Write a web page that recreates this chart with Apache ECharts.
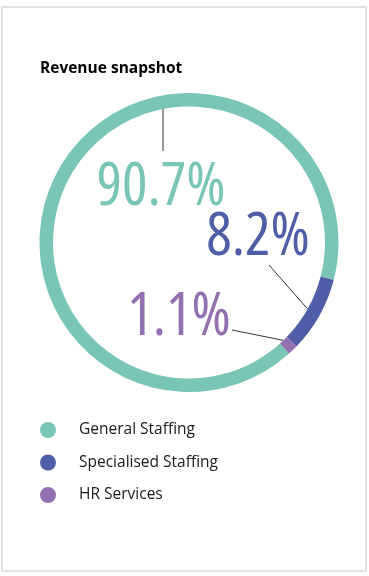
<!DOCTYPE html>
<html><head><meta charset="utf-8">
<script src="https://cdn.jsdelivr.net/npm/echarts@6/dist/echarts.min.js"></script>
<style>
html,body{margin:0;padding:0;background:#fff;}
#frame{position:absolute;left:1px;top:6px;width:362px;height:562px;border:2px solid #e2e2e2;box-sizing:content-box;}
#chart{position:absolute;left:0;top:0;width:369px;height:576px;}
</style></head>
<body>
<div id="frame"></div>
<div id="chart"></div>
<script>
const categories = ['General Staffing', 'Specialised Staffing', 'HR Services'];
const values = [90.7, 8.2, 1.1];
const labelTexts = ['90.7%', '8.2%', '1.1%'];
const colors = ['#79c6b7', '#4f5ea6', '#9370b0'];

// layout: label anchors and leader-line start offsets (px)
const labelPos = [[161, 188], [258, 238], [179, 318]];
const lineStartOffset = [[2, -37], [11, 27], [53, 12]];

const CX = 189, CY = 242.5, R_IN = 136, R_OUT = 149.5, START = 312;
const total = values.reduce((a, b) => a + b, 0);

function midAngle(i) {
  let acc = 0;
  for (let k = 0; k < i; k++) acc += values[k];
  const a = START - (acc + values[i] / 2) / total * 360;
  return a * Math.PI / 180;
}

const chart = echarts.init(document.getElementById('chart'), null, {renderer: 'canvas'});
chart.setOption({
  animation: false,
  title: {
    text: 'Revenue snapshot', left: 40, top: 61, padding: 0,
    textStyle: {fontFamily: 'Open Sans', fontWeight: 'bold', fontSize: 15.5, color: '#000'}
  },
  legend: {
    orient: 'vertical', left: 40, top: 422, padding: 0,
    icon: 'circle', itemWidth: 16, itemHeight: 16, itemGap: 16.5,
    data: categories,
    textStyle: {fontFamily: 'Open Sans', fontSize: 15.5, color: '#1a1a1a', padding: [0, 0, 0, 18]}
  },
  series: [{
    type: 'pie',
    center: [CX, CY],
    radius: [R_IN, R_OUT],
    startAngle: START,
    clockwise: true,
    silent: true,
    data: categories.map((c, i) => ({
      name: c, value: values[i],
      itemStyle: {color: colors[i]},
      label: {color: colors[i]}
    })),
    label: {
      show: true,
      overflow: 'none',
      formatter: p => labelTexts[p.dataIndex],
      fontFamily: 'Open Sans',
      fontStyle: 'condensed',
      fontSize: 60,
      fontWeight: 500
    },
    labelLine: {show: true, length: 0, length2: 0, lineStyle: {color: '#333', width: 1}},
    labelLayout: p => {
      const i = p.dataIndex;
      const [lx, ly] = labelPos[i];
      const s = [lx + lineStartOffset[i][0], ly + lineStartOffset[i][1]];
      let e;
      if (i === 0) {
        const dx = s[0] - CX;
        e = [s[0], CY - Math.sqrt(R_IN * R_IN - dx * dx)];
      } else {
        const a = midAngle(i);
        e = [CX + R_IN * Math.cos(a), CY - R_IN * Math.sin(a)];
      }
      return {
        x: lx, y: ly, align: 'center', verticalAlign: 'middle',
        labelLinePoints: [s, s, e]
      };
    }
  }]
});
</script>
</body></html>
